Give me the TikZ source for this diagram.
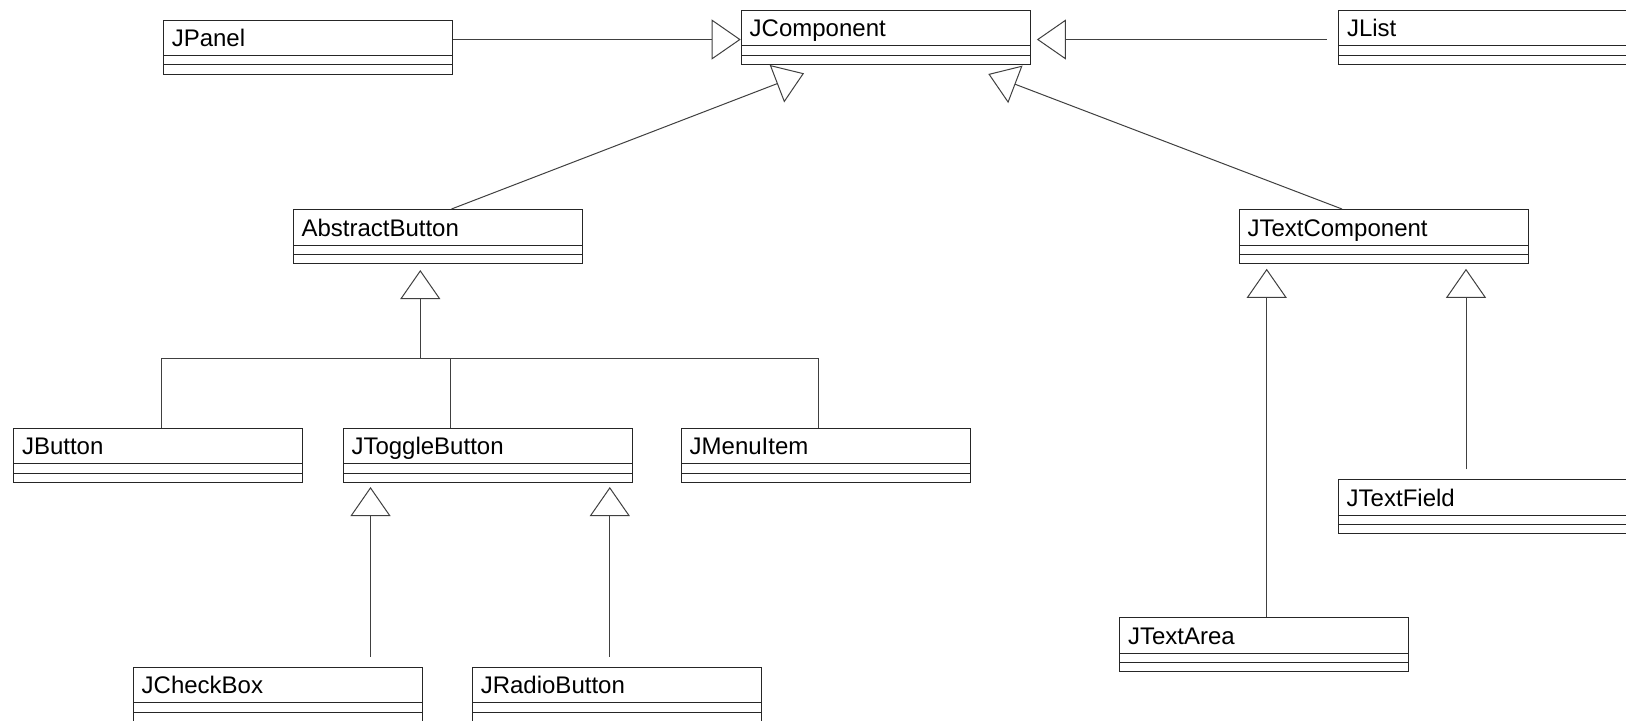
\documentclass[tikz,border=0pt]{standalone}
\usepackage{fontspec}
\setmainfont{Liberation Sans}
\usetikzlibrary{arrows.meta}

\begin{document}
\begin{tikzpicture}[x=0.5pt, y=-0.5pt,
    umlclass/.style={draw=black!85, line width=0.5pt, rectangle, anchor=north west,
      inner xsep=4.25pt, inner ysep=0pt, text width=136pt, align=left,
      text height=13.25pt, text depth=13.75pt, font=\fontsize{12pt}{14pt}\selectfont,
      path picture={
        \draw[black!85, line width=0.5pt] ([yshift=4.6pt]path picture bounding box.south west) -- ([yshift=4.6pt]path picture bounding box.south east);
        \draw[black!85, line width=0.5pt] ([yshift=9.25pt]path picture bounding box.south west) -- ([yshift=9.25pt]path picture bounding box.south east);
      }},
    genline/.style={draw=black!75, line width=0.5pt},
    genarrow/.style={genline, -{Triangle[open, length=14.5pt, width=20pt]}}]
    \fill[white] (0,0) rectangle (1626,720);
    \path[use as bounding box] (0,0) rectangle (1626,720);
    \clip (0,0) rectangle (1626,720);

    \foreach \name/\x/\y/\txt in {jpanel/162.8/19.5/JPanel, jcomponent/740.7/9.7/JComponent,
        jlist/1338/9.7/JList, abstractbutton/292.5/209/AbstractButton,
        jtextcomponent/1238.5/209/JTextComponent, jbutton/13/427.7/JButton,
        jtogglebutton/342.5/427.7/JToggleButton, jmenuitem/680.7/427.7/JMenuItem,
        jtextfield/1337.7/479/JTextField, jtextarea/1119/617.3/JTextArea,
        jcheckbox/132.7/666.8/JCheckBox, jradiobutton/471.8/666.8/JRadioButton}
        \node[umlclass] (\name) at (\x,\y) {\txt};

    \coordinate (toprow) at (0,39.5);
    \coordinate (bus) at (420.3,358.3);
    \coordinate (abtip) at (804,73.3);
    \coordinate (jtctip) at (988.3,74);

    \draw[genarrow] (jpanel.east |- toprow) -- (jcomponent.west |- toprow);
    \draw[genarrow, shorten <=5.75pt, shorten >=3.1pt] (jlist.west |- toprow) -- (jcomponent.east |- toprow);
    \draw[genarrow] ([xshift=7pt]abstractbutton.north) -- (abtip);
    \draw[genarrow] ([xshift=-20.75pt]jtextcomponent.north) -- (jtctip);

    \draw[genline] ([xshift=74.35pt]jbutton.north west) |- (bus) -| ([xshift=68.75pt]jmenuitem.north west);
    \draw[genline] ([xshift=53.9pt]jtogglebutton.north west) |- (bus);
    \draw[genarrow, shorten >=3pt] (bus) -- (bus |- abstractbutton.south);

    \path (jcheckbox.north west) ++(118.9pt,0) coordinate (cbtop);
    \path (jradiobutton.north west) ++(69pt,0) coordinate (rbtop);
    \path (jtextarea.north west) ++(73.85pt,0) coordinate (tatop);
    \path (jtextfield.north west) ++(64.15pt,0) coordinate (tftop);
    \draw[genarrow, shorten <=5pt, shorten >=2.15pt] (cbtop) -- (cbtop |- jtogglebutton.south);
    \draw[genarrow, shorten <=5pt, shorten >=2.15pt] (rbtop) -- (rbtop |- jtogglebutton.south);
    \draw[genarrow, shorten >=2.4pt] (tatop) -- (tatop |- jtextcomponent.south);
    \draw[genarrow, shorten <=4.8pt, shorten >=2.4pt] (tftop) -- (tftop |- jtextcomponent.south);
\end{tikzpicture}
\end{document}
